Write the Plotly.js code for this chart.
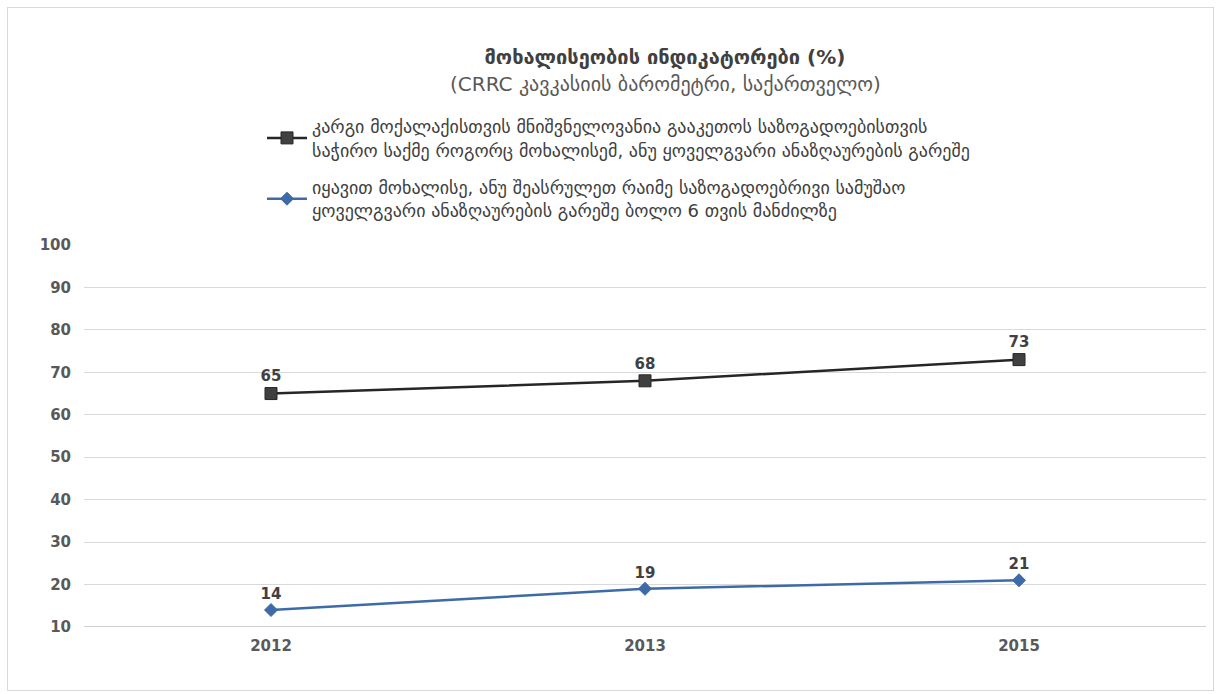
<!DOCTYPE html>
<html>
<head>
<meta charset="utf-8">
<script src="https://cdn.plot.ly/plotly-3.0.1.min.js"></script>
<style>
html,body{margin:0;padding:0;background:#fff;}
#frame{position:absolute;left:7px;top:7px;width:1207px;height:684px;border:1px solid #d9d9d9;box-sizing:border-box;pointer-events:none;z-index:5;}
#chart{position:absolute;left:0;top:0;width:1221px;height:694px;}
</style>
</head>
<body>
<div id="chart"></div>
<div id="frame"></div>
<script>
const years = ['2012', '2013', '2015'];
const seriesGoodCitizen = [65, 68, 73];
const seriesVolunteered = [14, 19, 21];
const nameGoodCitizen = 'კარგი მოქალაქისთვის მნიშვნელოვანია გააკეთოს საზოგადოებისთვის<br>საჭირო საქმე როგორც მოხალისემ, ანუ ყოველგვარი ანაზღაურების გარეშე';
const nameVolunteered = 'იყავით მოხალისე, ანუ შეასრულეთ რაიმე საზოგადოებრივი სამუშაო<br>ყოველგვარი ანაზღაურების გარეშე ბოლო 6 თვის მანძილზე';
const yTicks = [10, 20, 30, 40, 50, 60, 70, 80, 90, 100];
const titleText = 'მოხალისეობის ინდიკატორები (%)';
const subtitleText = '(CRRC კავკასიის ბარომეტრი, საქართველო)';

const FONT = 'DejaVu Sans, Noto Sans, sans-serif';

const traces = [
  {
    x: years, y: seriesGoodCitizen, name: nameGoodCitizen, legendgroup: 'g1',
    type: 'scatter', mode: 'lines+markers+text',
    text: seriesGoodCitizen.map(String), textposition: 'top center',
    textfont: {family: FONT, size: 15, color: '#404040', weight: 'bold'},
    line: {color: '#262626', width: 2.5},
    marker: {symbol: 'square', size: 12, color: '#404040', line: {color: '#262626', width: 1}}
  },
  {
    x: years, y: seriesVolunteered, name: nameVolunteered, legendgroup: 'g2',
    type: 'scatter', mode: 'lines+markers+text',
    text: seriesVolunteered.map(String), textposition: 'top center',
    textfont: {family: FONT, size: 15, color: '#404040', weight: 'bold'},
    line: {color: '#3e6aa8', width: 2.5},
    marker: {symbol: 'diamond', size: 10, color: '#3e6aa8', line: {color: '#3e6aa8', width: 1}}
  }
];

const layout = {
  width: 1221, height: 694,
  paper_bgcolor: '#ffffff', plot_bgcolor: '#ffffff',
  margin: {l: 84, r: 15, t: 245, b: 67},
  font: {family: FONT, color: '#404040'},
  title: {
    text: '<b>' + titleText + '</b>',
    font: {family: FONT, size: 20, color: '#404040'},
    x: 0.5446, xref: 'container', xanchor: 'center',
    y: 1 - 57/694, yref: 'container', yanchor: 'middle'
  },
  annotations: [{
    text: subtitleText, xref: 'paper', yref: 'paper',
    x: (665 - 84) / 1122, y: (627 - 84) / 382, xanchor: 'center', yanchor: 'middle',
    showarrow: false, font: {family: FONT, size: 20, color: '#595959'}
  }],
  showlegend: true,
  legend: {
    x: (262 - 84) / 1122, y: (627 - 108) / 382, xanchor: 'left', yanchor: 'top',
    font: {family: FONT, size: 18, color: '#404040'},
    tracegroupgap: 11, itemwidth: 40, bgcolor: 'rgba(0,0,0,0)'
  },
  xaxis: {
    type: 'category', range: [-0.5, 2.5],
    showgrid: false, zeroline: false, showline: false,
    ticks: '', tickfont: {family: FONT, size: 15, color: '#595959', weight: 'bold'},
    ticklabelstandoff: 8
  },
  yaxis: {
    range: [10, 100], tickvals: yTicks, ticktext: yTicks.map(String),
    showgrid: true, gridcolor: '#d9d9d9', gridwidth: 1,
    zeroline: false, showline: false, ticks: '',
    tickfont: {family: FONT, size: 15, color: '#595959', weight: 'bold'},
    ticklabelstandoff: 12
  },
  shapes: [{
    type: 'line', xref: 'paper', yref: 'y', x0: 0, x1: 1, y0: 10, y1: 10,
    line: {color: '#bfbfbf', width: 1.5}
  }]
};

Plotly.newPlot('chart', traces, layout, {displayModeBar: false, staticPlot: true});
</script>
</body>
</html>
